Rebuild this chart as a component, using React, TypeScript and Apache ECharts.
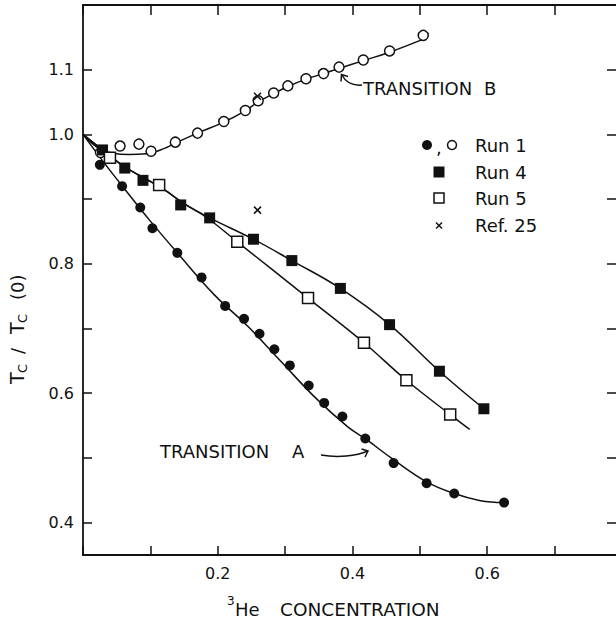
import { useEffect, useRef } from "react";
import * as echarts from "echarts";

// Axis ticks and labels
const xLabelValues = [0.2, 0.4, 0.6];
const yTickValues = [0.4, 0.5, 0.6, 0.7, 0.8, 0.9, 1.0, 1.1, 1.2];
const yLabelValues = [0.4, 0.6, 0.8, 1.0, 1.1];

// Run 1, transition A (filled circles): [3He concentration, Tc/Tc(0)]
const run1A: [number, number][] = [
  [0.025, 0.953], [0.058, 0.92], [0.085, 0.887], [0.103, 0.855], [0.14, 0.817],
  [0.176, 0.779], [0.211, 0.735], [0.239, 0.715], [0.262, 0.692], [0.284, 0.668],
  [0.307, 0.643], [0.335, 0.612], [0.358, 0.585], [0.385, 0.564], [0.419, 0.53],
  [0.461, 0.492], [0.51, 0.461], [0.551, 0.445], [0.625, 0.431],
];

// Run 1, transition B (open circles)
const run1B: [number, number][] = [
  [0.026, 0.972], [0.055, 0.982], [0.083, 0.985], [0.101, 0.974], [0.137, 0.988],
  [0.17, 1.002], [0.209, 1.02], [0.241, 1.037], [0.26, 1.052], [0.283, 1.064],
  [0.304, 1.075], [0.331, 1.086], [0.357, 1.094], [0.38, 1.104], [0.416, 1.115],
  [0.455, 1.129], [0.505, 1.153],
];

// Run 4 (filled squares)
const run4: [number, number][] = [
  [0.029, 0.976], [0.062, 0.948], [0.089, 0.929], [0.145, 0.891], [0.188, 0.871],
  [0.253, 0.838], [0.31, 0.805], [0.382, 0.762], [0.455, 0.706], [0.529, 0.634],
  [0.595, 0.576],
];

// Run 5 (open squares)
const run5: [number, number][] = [
  [0.04, 0.964], [0.113, 0.922], [0.229, 0.834], [0.334, 0.747], [0.417, 0.678],
  [0.48, 0.62], [0.545, 0.567],
];

// Ref. 25 (crosses)
const ref25: [number, number][] = [
  [0.259, 1.059], [0.259, 0.883],
];

// Hand-fitted curves through each set
const curveA: [number, number][] = [
  [0, 1.0], [0.03, 0.958], [0.06, 0.918], [0.1, 0.866], [0.14, 0.817],
  [0.195, 0.752], [0.245, 0.703], [0.294, 0.649], [0.344, 0.594], [0.393, 0.548],
  [0.42, 0.529], [0.46, 0.498], [0.51, 0.463], [0.551, 0.445], [0.59, 0.434],
  [0.625, 0.431],
];
const curveB: [number, number][] = [
  [0, 1.0], [0.024, 0.978], [0.045, 0.971], [0.068, 0.969], [0.093, 0.97],
  [0.12, 0.978], [0.14, 0.988], [0.17, 1.002], [0.209, 1.019], [0.24, 1.036],
  [0.26, 1.05], [0.283, 1.063], [0.304, 1.074], [0.33, 1.085], [0.357, 1.094],
  [0.38, 1.102], [0.416, 1.114], [0.455, 1.127], [0.507, 1.148],
];
const curveRun4: [number, number][] = [
  [0, 1.0], [0.03, 0.975], [0.06, 0.951], [0.09, 0.933], [0.12, 0.915],
  [0.15, 0.893], [0.188, 0.871], [0.253, 0.838], [0.31, 0.805], [0.382, 0.762],
  [0.455, 0.706], [0.529, 0.634], [0.595, 0.576],
];
const curveRun5: [number, number][] = [
  [0, 1.0], [0.03, 0.975], [0.06, 0.951], [0.09, 0.933], [0.12, 0.915],
  [0.15, 0.893], [0.183, 0.872], [0.229, 0.834], [0.334, 0.747], [0.417, 0.678],
  [0.48, 0.62], [0.545, 0.567], [0.574, 0.544],
];

const FONT = "DejaVu Sans";
const INK = "#111";

const fmt1 = (v: number) => v.toFixed(1);

function curveSeries(data: [number, number][]) {
  return {
    type: "line",
    data,
    smooth: 0.4,
    symbol: "none",
    silent: true,
    z: 2,
    lineStyle: { color: INK, width: 1.5 },
  };
}

function txt(x: number, y: number, text: string, size: number, extra: any = {}) {
  return {
    type: "text",
    x,
    y,
    silent: true,
    style: {
      text,
      fill: INK,
      font: `${size}px "${FONT}"`,
      textVerticalAlign: "middle",
      ...extra,
    },
  };
}

export default function App() {
  const ref = useRef<HTMLDivElement>(null);

  useEffect(() => {
    if (!ref.current) return;
    const chart = echarts.init(ref.current, null, { renderer: "svg" });

    const tickStyle = { color: INK, width: 1.5 };
    const axisLine = { show: true, onZero: false, lineStyle: { color: INK, width: 1.8 } };

    const option: any = {
      animation: false,
      backgroundColor: "#fff",
      grid: { left: 83, right: -6, top: 5, bottom: 66, outerBoundsMode: "none", containLabel: false },
      xAxis: [
        {
          type: "value",
          min: 0,
          max: 0.8,
          interval: 0.1,
          position: "bottom",
          axisLine,
          splitLine: { show: false },
          axisTick: { inside: true, length: 9, lineStyle: tickStyle },
          axisLabel: {
            customValues: xLabelValues,
            formatter: fmt1,
            margin: 10,
            color: INK,
            fontFamily: FONT,
            fontSize: 16,
          },
        },
        {
          type: "value",
          min: 0,
          max: 0.8,
          interval: 0.1,
          position: "top",
          axisLine,
          splitLine: { show: false },
          axisTick: { inside: true, length: 10, lineStyle: tickStyle },
          axisLabel: { show: false },
        },
      ],
      yAxis: [
        {
          type: "value",
          min: 0.35,
          max: 1.2,
          position: "left",
          axisLine,
          splitLine: { show: false },
          axisTick: { inside: true, length: 9, customValues: yTickValues, lineStyle: tickStyle },
          axisLabel: {
            customValues: yLabelValues,
            formatter: fmt1,
            margin: 9,
            color: INK,
            fontFamily: FONT,
            fontSize: 16,
          },
        },
        {
          type: "value",
          min: 0.35,
          max: 1.2,
          position: "right",
          axisLine,
          splitLine: { show: false },
          axisTick: { inside: true, length: 15, customValues: yTickValues, lineStyle: tickStyle },
          axisLabel: { show: false },
        },
      ],
      series: [
        curveSeries(curveA),
        curveSeries(curveB),
        curveSeries(curveRun4),
        curveSeries(curveRun5),
        {
          type: "scatter",
          data: run1A,
          symbol: "circle",
          symbolSize: 10,
          z: 5,
          itemStyle: { color: INK, opacity: 1 },
        },
        {
          type: "scatter",
          data: run1B,
          symbol: "circle",
          symbolSize: 10,
          z: 5,
          itemStyle: { color: "#fff", borderColor: INK, borderWidth: 1.5, opacity: 1 },
        },
        {
          type: "scatter",
          data: run4,
          symbol: "rect",
          symbolSize: 11,
          z: 5,
          itemStyle: { color: INK, opacity: 1 },
        },
        {
          type: "scatter",
          data: run5,
          symbol: "rect",
          symbolSize: 11,
          z: 5,
          itemStyle: { color: "#fff", borderColor: INK, borderWidth: 1.5, opacity: 1 },
        },
        {
          type: "scatter",
          data: ref25,
          symbol: "path://M0,0L10,10M10,0L0,10",
          symbolSize: 7,
          z: 6,
          itemStyle: { color: "none", borderColor: INK, borderWidth: 1.5, opacity: 1 },
        },
      ],
      graphic: [
        // legend
        { type: "circle", silent: true, shape: { cx: 427, cy: 145, r: 5 }, style: { fill: INK } },
        txt(436, 147, ",", 18),
        { type: "circle", silent: true, shape: { cx: 452, cy: 145, r: 4.5 }, style: { fill: "#fff", stroke: INK, lineWidth: 1.5 } },
        txt(475, 145, "Run 1", 18),
        { type: "rect", silent: true, shape: { x: 433.5, y: 166.5, width: 11, height: 11 }, style: { fill: INK } },
        txt(475, 172, "Run 4", 18),
        { type: "rect", silent: true, shape: { x: 434, y: 193, width: 10, height: 10 }, style: { fill: "#fff", stroke: INK, lineWidth: 1.5 } },
        txt(475, 198, "Run 5", 18),
        { type: "line", silent: true, shape: { x1: 436, y1: 222.5, x2: 442, y2: 228.5 }, style: { stroke: INK, lineWidth: 1.5 } },
        { type: "line", silent: true, shape: { x1: 442, y1: 222.5, x2: 436, y2: 228.5 }, style: { stroke: INK, lineWidth: 1.5 } },
        txt(475, 225.5, "Ref. 25", 18),

        // transition labels and arrows
        txt(363, 88, "TRANSITION", 18),
        txt(484, 88, "B", 18),
        {
          type: "bezierCurve",
          silent: true,
          shape: { x1: 362, y1: 85, cpx1: 352, cpy1: 86, cpx2: 345, cpy2: 81, x2: 341.5, y2: 74.5 },
          style: { stroke: INK, lineWidth: 1.5, fill: "none" },
        },
        {
          type: "polyline",
          silent: true,
          shape: { points: [[341, 81.5], [341.5, 74.5], [348, 76.5]] },
          style: { stroke: INK, lineWidth: 1.5, fill: "none" },
        },
        txt(160, 451.5, "TRANSITION", 18),
        txt(292, 451.5, "A", 18),
        {
          type: "bezierCurve",
          silent: true,
          shape: { x1: 321, y1: 455, cpx1: 338, cpy1: 458, cpx2: 356, cpy2: 456, x2: 368, y2: 451 },
          style: { stroke: INK, lineWidth: 1.5, fill: "none" },
        },
        {
          type: "polyline",
          silent: true,
          shape: { points: [[361.5, 449], [368, 451], [365, 457]] },
          style: { stroke: INK, lineWidth: 1.5, fill: "none" },
        },

        // x-axis title
        txt(227, 601, "3", 12),
        txt(235, 609, "He", 18),
        txt(280, 609, "CONCENTRATION", 18.5),

        // y-axis title, rotated to read upward
        {
          type: "group",
          x: 17,
          y: 384,
          rotation: Math.PI / 2,
          silent: true,
          children: [
            txt(0, 0, "T", 19),
            txt(11, 5, "C", 13),
            txt(30, 0, "/", 18),
            txt(50, 0, "T", 19),
            txt(61, 5, "C", 13),
            txt(84, 0, "(0)", 18),
          ],
        },
      ],
    };

    chart.setOption(option);
    return () => chart.dispose();
  }, []);

  return (
    <div
      ref={ref}
      style={{ position: "fixed", left: 0, top: 0, width: 616, height: 621, background: "#fff" }}
    />
  );
}
